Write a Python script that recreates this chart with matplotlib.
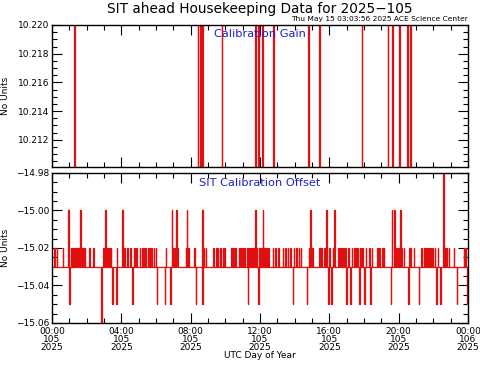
import matplotlib
matplotlib.use("Agg")
import matplotlib.pyplot as plt
from matplotlib.ticker import MultipleLocator, FixedLocator, FuncFormatter

# ---------------- data (hours of day 105) ----------------
gain_base = 10.2099
gain_spike_level = 10.2205
gain_spike_times = [1.27, 8.41, 8.54, 8.67, 9.79, 11.71, 11.90, 12.13, 12.77,
                    14.79, 15.42, 17.87, 19.37, 19.64, 20.02, 20.50, 20.66]

offset_base = -15.03
offset_m1502_times = [0.12, 0.27, 0.62, 1.08, 1.14, 1.19, 1.25, 1.31, 1.38, 1.44, 1.50,
                      1.55, 1.73, 1.80, 1.89, 2.15, 2.38, 2.96, 3.12, 3.20, 3.27, 3.33,
                      3.39, 3.73, 4.15, 4.34, 4.50,
                      4.73, 4.86, 5.06, 5.21, 5.31, 5.41, 5.54, 5.64, 5.73, 5.87, 5.98,
                      6.56, 6.98, 7.08, 7.21, 7.71, 7.86, 8.19, 8.75, 8.87, 9.29, 9.48,
                      9.56, 9.69, 9.85, 9.94, 10.33, 10.46, 10.58, 10.77, 10.85, 10.96,
                      11.09, 11.23, 11.32, 11.42, 11.52, 11.61, 11.66, 11.81, 11.95,
                      12.00, 12.10, 12.23, 12.29, 12.39, 12.48, 12.73, 12.88, 13.04,
                      13.31, 13.44, 13.60, 13.73, 13.95, 14.08, 14.23, 14.35, 14.82,
                      14.96, 15.02, 15.40, 15.52, 15.69, 16.00, 16.20, 16.52, 16.62,
                      16.71, 16.81, 16.90, 17.08, 17.29, 17.42, 17.56, 17.61, 17.76,
                      17.81, 17.90, 18.10, 18.30, 18.44, 18.77, 18.87, 19.06, 19.14,
                      19.71, 19.81, 19.90, 20.00, 20.15, 20.29, 20.60, 20.67, 20.87,
                      21.31, 21.44, 21.54, 21.63, 21.73, 21.83, 21.92, 22.08, 22.25,
                      22.65, 22.73, 22.89, 23.17, 23.75, 23.85]
offset_m1500_times = [0.94, 1.62, 3.06, 4.06, 6.91, 7.15, 7.77, 8.67, 11.71, 12.16,
                      14.88, 15.81, 16.27, 19.60, 19.75, 20.08]
offset_m1498_times = [22.58]
offset_m1505_times = [0.98, 3.46, 3.69, 4.62, 6.04, 6.50, 6.83, 8.29, 8.65, 11.29,
                      11.90, 13.89, 14.69, 15.94, 16.11, 16.96, 17.19, 17.71, 18.00,
                      18.35, 19.54, 20.54, 21.16, 22.15, 22.38, 23.35, 23.96]
offset_m1506_times = [2.83]

xtick_hours = [0, 4, 8, 12, 16, 20, 24]
xtick_labels = ["00:00\n105\n2025", "04:00\n105\n2025", "08:00\n105\n2025",
                "12:00\n105\n2025", "16:00\n105\n2025", "20:00\n105\n2025",
                "00:00\n106\n2025"]

title = "SIT ahead Housekeeping Data for 2025-105"
stamp = "Thu May 15 03:03:56 2025 ACE Science Center"


def spike_series(base, events, width=0.045):
    events = sorted(events)
    xs, ys = [0.0], [base]
    for t, lev in events:
        xs += [t, t, t + width, t + width]
        ys += [base, lev, lev, base]
    xs.append(24.0)
    ys.append(base)
    return xs, ys


gain_events = [(t, gain_spike_level) for t in gain_spike_times]
off_events = ([(t, -15.02) for t in offset_m1502_times] +
              [(t, -15.00) for t in offset_m1500_times] +
              [(t, -14.98) for t in offset_m1498_times] +
              [(t, -15.05) for t in offset_m1505_times] +
              [(t, -15.06) for t in offset_m1506_times])

plt.rcParams['font.family'] = ['DejaVu Sans']
fig = plt.figure(figsize=(4.81, 3.70), dpi=100)
W, H = 481.0, 370.0
L, R = 52 / W, 468 / W
ax1 = fig.add_axes([L, 1 - 167 / H, R - L, 142 / H])
ax2 = fig.add_axes([L, 1 - 323 / H, R - L, 150 / H])

red = '#e01010'
gx, gy = spike_series(gain_base, gain_events, width=0.035)
ax1.plot(gx, gy, color=red, lw=0.9)
ox, oy = spike_series(offset_base, off_events, width=0.035)
ax2.plot(ox, oy, color=red, lw=0.9)

ax1.set_ylim(10.2101, 10.2200)
ax1.yaxis.set_major_locator(FixedLocator([10.212, 10.214, 10.216, 10.218, 10.220]))
ax1.yaxis.set_minor_locator(MultipleLocator(0.0005))
ax1.yaxis.set_major_formatter(FuncFormatter(lambda v, p: f"{v:.3f}"))
ax2.set_ylim(-15.06, -14.98)
ax2.yaxis.set_major_locator(FixedLocator([-15.06, -15.04, -15.02, -15.00, -14.98]))
ax2.yaxis.set_minor_locator(MultipleLocator(0.005))
ax2.yaxis.set_major_formatter(FuncFormatter(lambda v, p: f"{v:.2f}".replace('-', '\u2212')))

for ax in (ax1, ax2):
    ax.set_xlim(0, 24)
    ax.xaxis.set_major_locator(FixedLocator(xtick_hours))
    ax.xaxis.set_minor_locator(MultipleLocator(1))
    ax.tick_params(which='both', direction='in', top=True, right=True,
                   labelsize=6.5, width=0.8, colors='black', pad=2)
    ax.tick_params(which='major', length=7)
    ax.tick_params(which='minor', length=3.5)
    for s in ax.spines.values():
        s.set_linewidth(1.0)
    ax.set_ylabel("No Units", fontsize=6.5)
    ax.yaxis.set_label_coords(-0.1, 0.5)

ax1.tick_params(axis='x', labelbottom=False)
ax2.set_xticklabels(xtick_labels, linespacing=0.85)
ax2.tick_params(axis='x', pad=3)

fig.text(260 / W, 1 - 356 / H, "UTC Day of Year", ha='center', va='center', fontsize=6.5)

blue = '#2020c8'
ax1.text(0.5, 0.935, "Calibration Gain", transform=ax1.transAxes, ha='center',
         va='center', color=blue, fontsize=8.2)
ax2.text(0.5, 0.935, "SIT Calibration Offset", transform=ax2.transAxes, ha='center',
         va='center', color=blue, fontsize=8.2)

fig.text(260 / W, 1 - 9 / H, title.replace('-', '\u2212'), ha='center', va='center',
         fontsize=9.8)
fig.text(468 / W, 1 - 19 / H, stamp, ha='right', va='center', fontsize=5.4)

fig.savefig("out.png", dpi=100, facecolor='white')
